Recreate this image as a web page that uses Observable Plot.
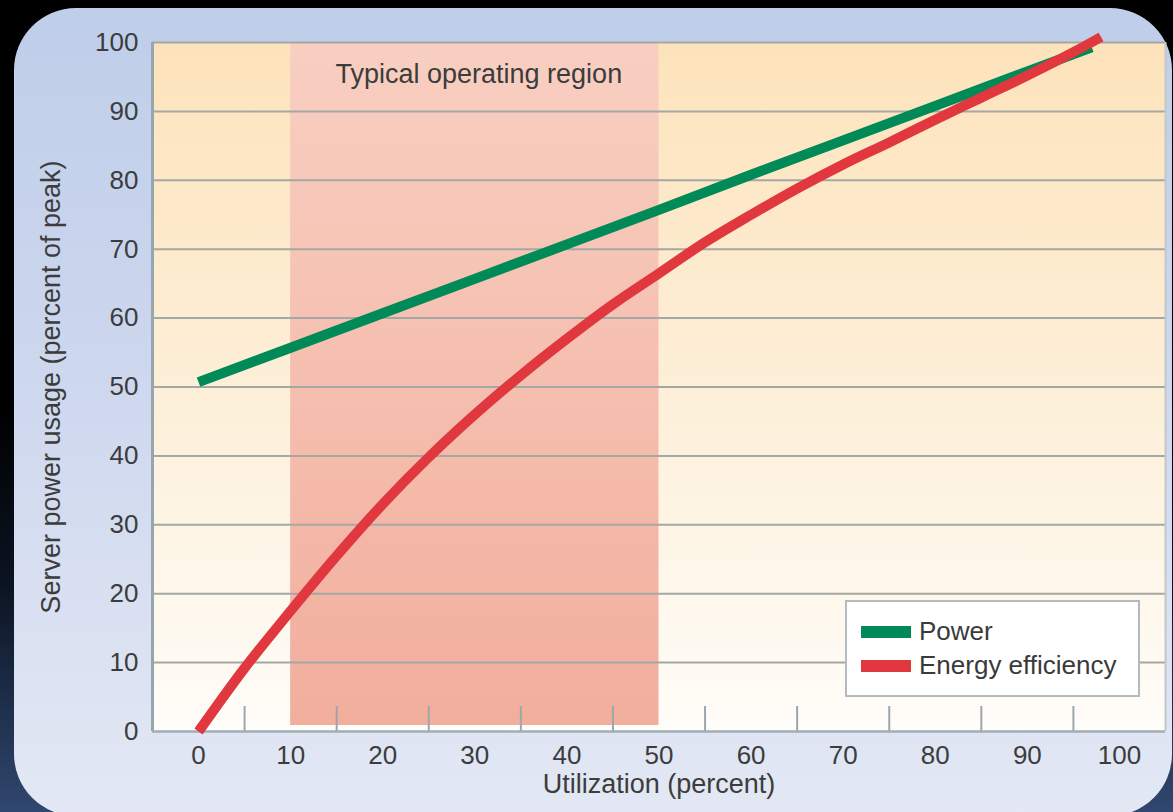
<!DOCTYPE html>
<html>
<head>
<meta charset="utf-8">
<script src="https://cdn.jsdelivr.net/npm/d3@7"></script>
<script src="https://cdn.jsdelivr.net/npm/@observablehq/plot@0.6"></script>
<style>
  html, body { margin: 0; padding: 0; }
  body {
    width: 1173px; height: 812px; overflow: hidden; position: relative;
    background: linear-gradient(to bottom, #000 0%, #000 50%, #0b1422 72%, #30476f 100%);
    font-family: "Liberation Sans", Arial, sans-serif;
  }
  #panel {
    position: absolute; left: 14px; top: 8px; width: 1158px; height: 808px;
    border-radius: 62px;
    background: linear-gradient(to bottom, #bfcee9 0%, #cdd7ee 45%, #e3e8f4 100%);
  }
  #chart { position: absolute; left: 0; top: 0; }
  #legend {
    position: absolute; left: 845px; top: 600px; width: 291px; height: 93px;
    background: #fff; border: 2px solid #b3bbc0;
    color: #3a3a3a; font-size: 26px;
  }
  .item { position: absolute; left: 14px; display: flex; align-items: center; white-space: nowrap; }
  .swatch { width: 50px; height: 12px; margin-right: 8px; }
</style>
</head>
<body>
<div id="panel"></div>
<div id="chart"></div>
<div id="legend"></div>
<script>
// Server power vs. utilization
const xTicks = [0, 10, 20, 30, 40, 50, 60, 70, 80, 90, 100];
const yTicks = [0, 10, 20, 30, 40, 50, 60, 70, 80, 90, 100];
const minorTicks = [5, 15, 25, 35, 45, 55, 65, 75, 85, 95];

const typicalRegion = [10, 50];
const regionLabel = "Typical operating region";

const xLabel = "Utilization (percent)";
const yLabel = "Server power usage (percent of peak)";

const seriesNames = ["Power", "Energy efficiency"];
const seriesColors = ["#008a58", "#e0383e"];

const powerUtil = [0, 10, 20, 30, 40, 50, 60, 70, 80, 90, 97];
const powerUsage = [50.7, 55.7, 60.7, 65.7, 70.7, 75.7, 80.8, 85.8, 90.8, 95.8, 99.3];

const effUtil = [0, 5, 10, 15, 20, 25, 30, 35, 40, 45, 50, 55, 60, 65, 70, 75, 80, 85, 90, 95, 98];
const effValues = [0, 9.2, 17.5, 25.5, 33, 39.8, 46, 51.7, 57, 62, 66.5, 71, 75, 78.8, 82.3, 85.5, 88.8, 92.0, 95.2, 98.6, 100.8];

const powerData = powerUtil.map((u, i) => ({u, v: powerUsage[i]}));
const effData = effUtil.map((u, i) => ({u, v: effValues[i]}));
const gridLevels = yTicks.filter(d => d > 0);

const textColor = "#3c3c3c";
const gridColor = "#a4a8a4";

const chart = Plot.plot({
  width: 1173,
  height: 812,
  marginLeft: 152,
  marginRight: 8,
  marginTop: 42,
  marginBottom: 81,
  x: {domain: [-5, 105]},
  y: {domain: [0, 100]},
  style: {
    fontFamily: "'Liberation Sans', Arial, sans-serif",
    background: "transparent",
    overflow: "visible"
  },
  marks: [
    // plot background
    Plot.frame({fill: "url(#plotBg)", stroke: "none"}),
    // typical operating region band
    Plot.rect([typicalRegion], {
      x1: d => d[0], x2: d => d[1], y1: 0, y2: 100,
      insetBottom: 6, fill: "url(#regionBg)"
    }),
    // horizontal gridlines
    Plot.ruleY(gridLevels, {stroke: gridColor, strokeWidth: 2}),
    // frame edges
    Plot.ruleX([-5], {stroke: "#97a6ae", strokeWidth: 3}),
    Plot.ruleX([105], {stroke: "#c2c8c8", strokeWidth: 2}),
    Plot.ruleY([0], {stroke: "#a3adb4", strokeWidth: 2.5}),
    // minor ticks pointing up from the x axis
    Plot.ruleX(minorTicks, {x: d => d, y1: 0, y2: 0, insetTop: -25, stroke: "#9ca7ad", strokeWidth: 2}),
    // axes
    Plot.axisX({ticks: xTicks, tickSize: 0, tickPadding: 14, fontSize: 26, color: textColor, label: null}),
    Plot.axisY({ticks: yTicks, tickSize: 0, tickPadding: 14, fontSize: 26, color: textColor, label: null}),
    // region label
    Plot.text([regionLabel], {
      x: (typicalRegion[0] + typicalRegion[1]) / 2, frameAnchor: "top", dy: 32, dx: 4,
      lineAnchor: "middle", textAnchor: "middle",
      text: d => d, fontSize: 27, fill: textColor
    }),
    // series
    Plot.line(powerData, {x: "u", y: "v", stroke: seriesColors[0], strokeWidth: 10, strokeLinecap: "butt"}),
    Plot.line(effData, {x: "u", y: "v", stroke: seriesColors[1], strokeWidth: 10, strokeLinecap: "butt", curve: "catmull-rom"}),
    // axis titles
    Plot.text([xLabel], {
      frameAnchor: "bottom", dy: 53, lineAnchor: "middle", textAnchor: "middle",
      text: d => d, fontSize: 27, fill: textColor
    }),
    Plot.text([yLabel], {
      frameAnchor: "left", dx: -101, rotate: -90, lineAnchor: "middle", textAnchor: "middle",
      text: d => d, fontSize: 27, fill: textColor
    })
  ]
});

// gradient fills for the plot area and the region band
const defs = d3.select(chart).insert("defs", ":first-child");
const g1 = defs.append("linearGradient").attr("id", "plotBg").attr("x1", 0).attr("y1", 0).attr("x2", 0).attr("y2", 1);
g1.append("stop").attr("offset", "0%").attr("stop-color", "#fde3bb");
g1.append("stop").attr("offset", "50%").attr("stop-color", "#fdefd8");
g1.append("stop").attr("offset", "100%").attr("stop-color", "#fffdf9");
const g2 = defs.append("linearGradient").attr("id", "regionBg").attr("x1", 0).attr("y1", 0).attr("x2", 0).attr("y2", 1);
g2.append("stop").attr("offset", "0%").attr("stop-color", "#f8cfc1");
g2.append("stop").attr("offset", "100%").attr("stop-color", "#f2ae9d");

document.getElementById("chart").appendChild(chart);

// legend box
const legend = d3.select("#legend");
seriesNames.forEach((name, i) => {
  const item = legend.append("div").attr("class", "item").style("top", (i === 0 ? 14 : 48) + "px");
  item.append("div").attr("class", "swatch").style("background", seriesColors[i]);
  item.append("span").text(name);
});
</script>
</body>
</html>
